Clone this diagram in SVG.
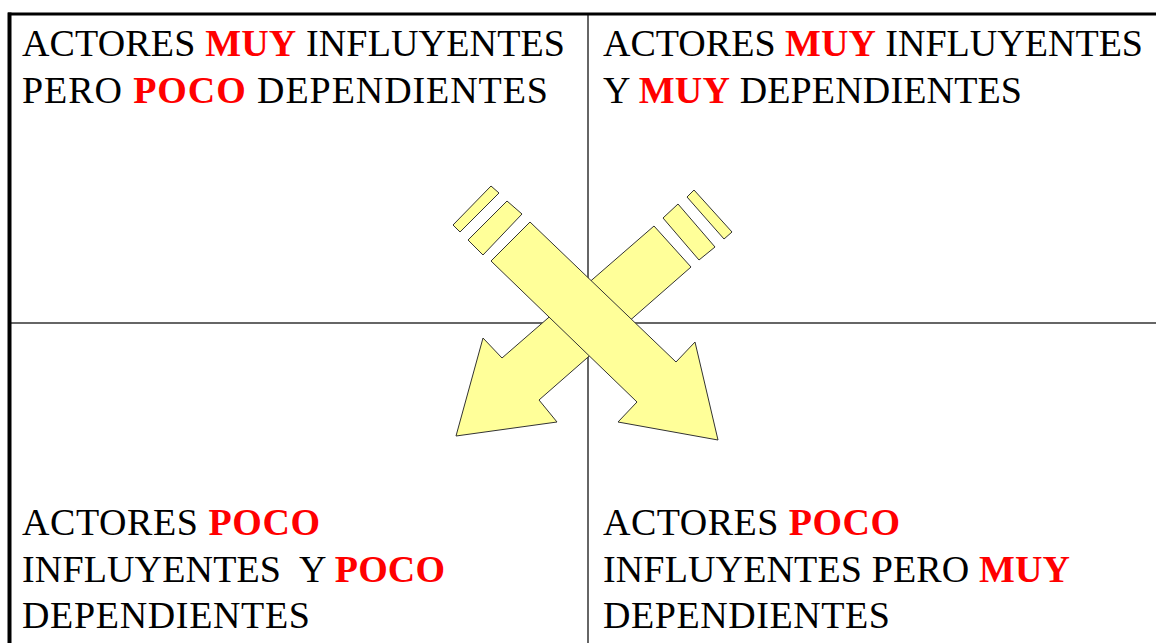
<svg xmlns="http://www.w3.org/2000/svg" width="1156" height="643" viewBox="0 0 1156 643">
<style>
.t{font-family:"Liberation Serif","Times New Roman",serif;font-size:38px;fill:#000;white-space:pre}
.r{fill:#ff0000;font-weight:bold}
.grid{stroke:#333;stroke-width:1.5;fill:none}
.arrow{fill:#ffff99;stroke:#333;stroke-width:1;stroke-linejoin:miter}
</style>
<rect width="1156" height="643" fill="#fff"/>
<g id="grid">
<line class="grid" x1="588" y1="14" x2="588" y2="643"/>
<line class="grid" x1="10" y1="323" x2="1156" y2="323"/>
<line x1="9.5" y1="12.5" x2="9.5" y2="643" stroke="#000" stroke-width="4"/>
<line x1="8" y1="14" x2="1156" y2="14" stroke="#000" stroke-width="3"/>
</g>
<g id="connectors">
<g id="arrow-down-left">
<polygon class="arrow" points="654,226 691,267 539,400 557,422 456,436 483,338 502,358"/>
<polygon class="arrow" points="663,218 678,204 715,247 699,260"/>
<polygon class="arrow" points="687,197 694,190 732,232 724,239"/>
</g>
<g id="arrow-down-right">
<polygon class="arrow" points="530,222 676,362 695,342 718,440 618,422 637,402 491,261"/>
<polygon class="arrow" points="468,240 507,201 522,214 483,255"/>
<polygon class="arrow" points="453,225 491,186 499,193 460,232"/>
</g>
</g>
<g id="q-top-left">
<text class="t" x="22" y="56" textLength="543" lengthAdjust="spacing">ACTORES <tspan class="r">MUY</tspan> INFLUYENTES</text>
<text class="t" x="22" y="103" textLength="526" lengthAdjust="spacing">PERO <tspan class="r">POCO</tspan> DEPENDIENTES</text>
</g>
<g id="q-top-right">
<text class="t" x="603" y="56" textLength="540" lengthAdjust="spacing">ACTORES <tspan class="r">MUY</tspan> INFLUYENTES</text>
<text class="t" x="603" y="103" textLength="419" lengthAdjust="spacing">Y <tspan class="r">MUY</tspan> DEPENDIENTES</text>
</g>
<g id="q-bottom-left">
<text class="t" x="22" y="535" textLength="298" lengthAdjust="spacing">ACTORES <tspan class="r">POCO</tspan></text>
<text class="t" x="22" y="582" textLength="423" lengthAdjust="spacing">INFLUYENTES  Y <tspan class="r">POCO</tspan></text>
<text class="t" x="22" y="628" textLength="288" lengthAdjust="spacing">DEPENDIENTES</text>
</g>
<g id="q-bottom-right">
<text class="t" x="603" y="535" textLength="297" lengthAdjust="spacing">ACTORES <tspan class="r">POCO</tspan></text>
<text class="t" x="603" y="582" textLength="467" lengthAdjust="spacing">INFLUYENTES PERO <tspan class="r">MUY</tspan></text>
<text class="t" x="603" y="628" textLength="287" lengthAdjust="spacing">DEPENDIENTES</text>
</g>
</svg>
